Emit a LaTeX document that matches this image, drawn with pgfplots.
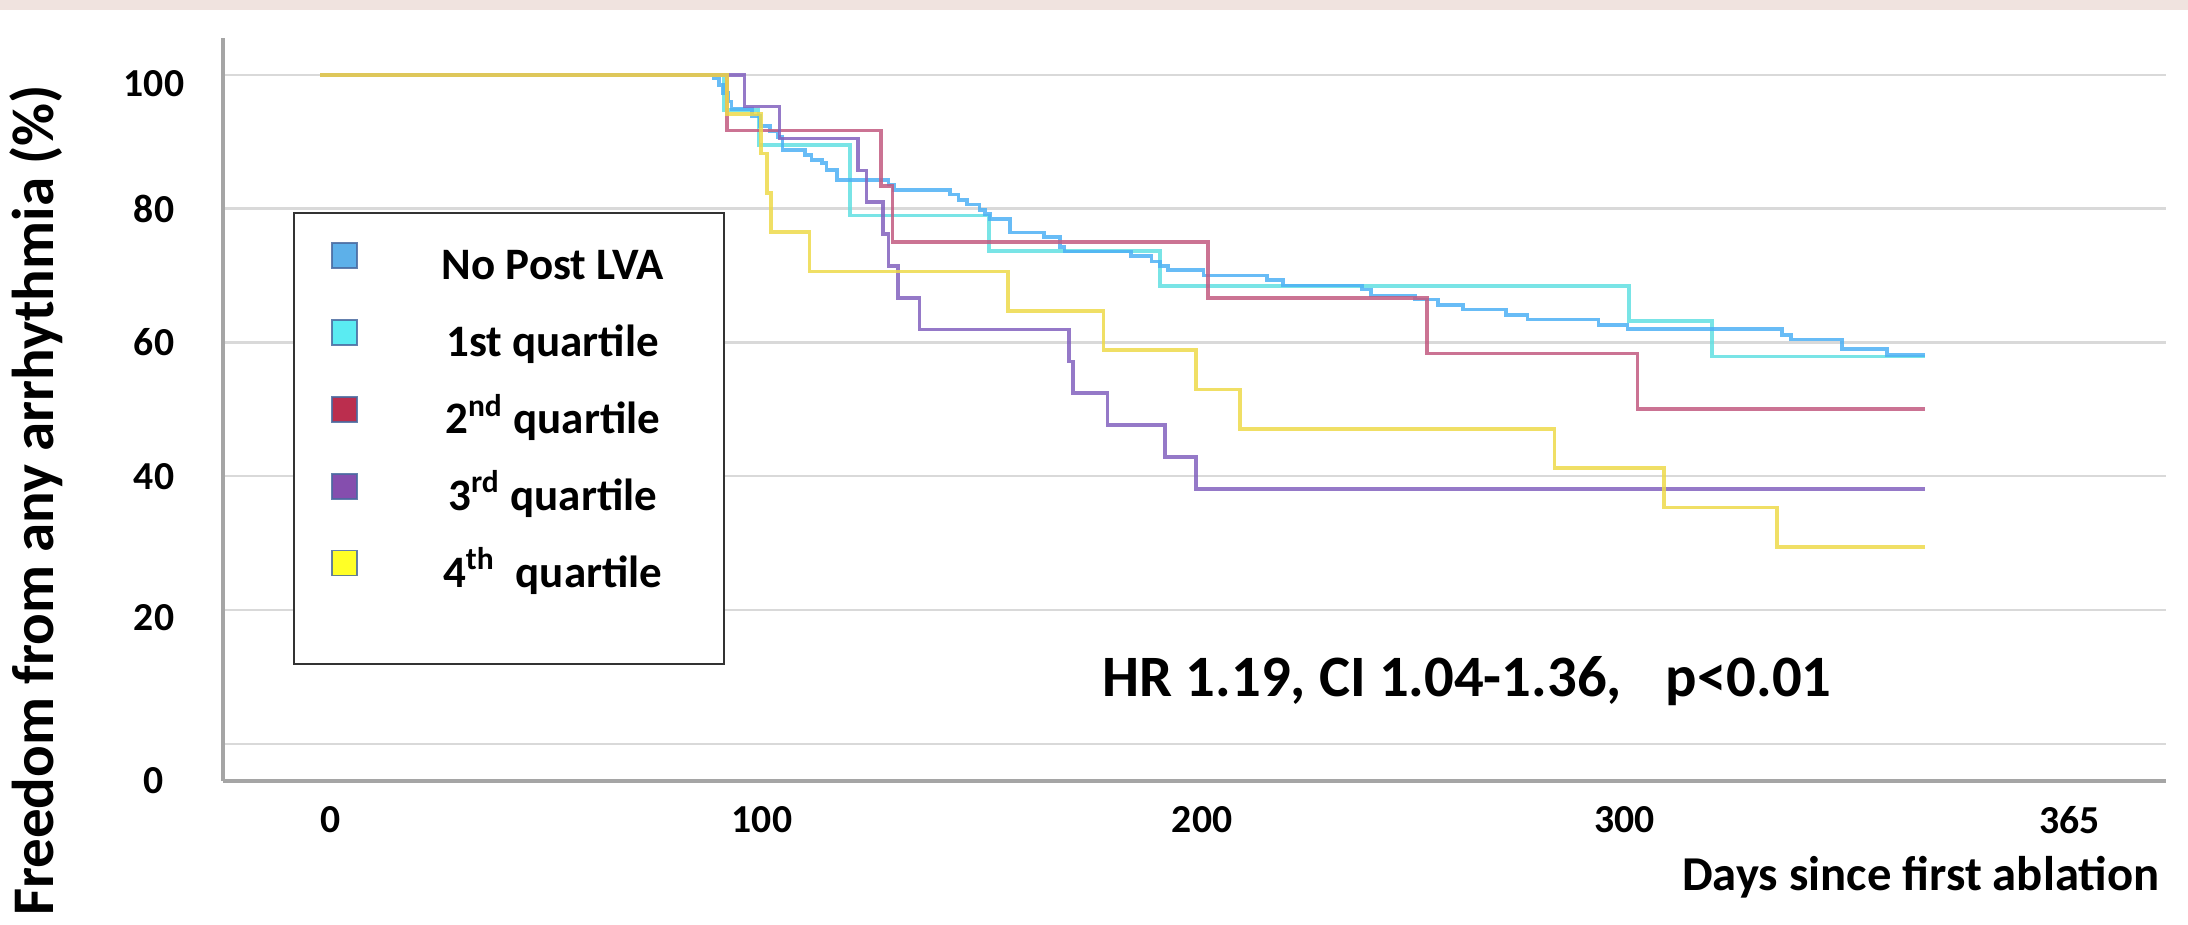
\documentclass[border=0pt]{standalone}
\usepackage{pgfplots}
\pgfplotsset{compat=1.18}
\usepackage{fontspec}
\setmainfont{Carlito}
\definecolor{cBlue}{HTML}{4DB0F5}
\definecolor{cCyan}{HTML}{62DFE2}
\definecolor{cRed}{HTML}{C25A80}
\definecolor{cPurple}{HTML}{8262BE}
\definecolor{cYellow}{HTML}{EDD94A}
\definecolor{lBlue}{HTML}{41A3E6}
\definecolor{lCyan}{HTML}{3EE8F0}
\definecolor{lRed}{HTML}{B00A30}
\definecolor{lPurple}{HTML}{7030A0}
\definecolor{lYellow}{HTML}{FFFF00}
\definecolor{lBorder}{HTML}{4A6AA0}
\definecolor{axisgray}{HTML}{A5A5A5}
\definecolor{gridgray}{HTML}{D9D9D9}
\definecolor{topband}{HTML}{F0E3DF}
\newcommand\tickfont{\fontsize{11.9}{14}\selectfont\bfseries}
\newcommand\lstrut{\rule[-7.275pt]{0pt}{23.25pt}}
\newcommand\lent[1]{\makebox[80.5pt][c]{#1}\lstrut}
\newcommand\lkey[1]{\addlegendimage{legend image code/.code={\draw[fill=#1, draw=lBorder, line width=0.5pt] (0pt,-3.75pt) rectangle (7.5pt,3.75pt);}}}
\begin{document}
\begin{tikzpicture}
\begin{scope}[x=0.3pt,y=-0.3pt]
\path[use as bounding box] (0,0) rectangle (2188,924);
\fill[topband] (0,0) rectangle (2188,10);
\coordinate (SW) at (222.7,781);
\end{scope}
\begin{axis}[
  at={(SW)}, anchor=south west,
  scale only axis, width=583.0pt, height=222.9pt,
  xmin=-22.13, xmax=419.8, ymin=-5.575, ymax=105.49,
  axis x line=bottom, axis y line=left,
  axis line style={-, draw=axisgray, line width=1.3pt},
  xtick={2.5,100.5,200.6,296.6,397.8},
  xticklabels={0,100,200,300,365},
  ytick={0,20,40,60,80,100}, yticklabels={},
  extra y ticks={-5.575,18.8,40,60,80,98.6},
  extra y tick labels={0,20,40,60,80,100},
  extra y tick style={grid=none},
  ymajorgrids, major grid style={draw=gridgray, line width=0.7pt},
  major tick length=0pt, tick style={draw=none},
  /pgf/number format/assume math mode=true,
  xticklabel style={anchor=center, yshift=-11.7pt, font=\tickfont},
  yticklabel style={anchor=center, xshift=-20.6pt, font=\tickfont},
  legend style={at={(0.03602,0.7654)}, anchor=north west,
    draw=black!80, line width=0.6pt, inner xsep=11.25pt, inner ysep=3.9pt,
    column sep=18.2pt, row sep=5.6pt, nodes={inner sep=0pt},
    font=\fontsize{13.5}{16}\selectfont\bfseries},
  every axis plot/.append style={const plot, line width=1.1pt, opacity=0.85, forget plot},
]
% 1st quartile
\addplot[cCyan] coordinates {(0,100) (91.8,94.74) (99.7,89.47) (120.5,78.95) (152.2,73.68) (191.0,68.42) (297.6,63.16) (316.5,57.89) (365,57.89)};
% No Post LVA
\addplot[cBlue] coordinates {(0,100) (89.5,99.5) (90.8,98.5) (91.7,97.3) (92.9,96.0) (93.6,94.9) (98.2,93.8) (100.1,92.3) (102.3,91.5) (104.0,90.7) (105.2,88.8) (110.3,88.0) (111.8,87.3) (114.1,86.8) (115.2,85.8) (117.5,84.3) (129.3,83.6) (130.5,82.8) (143.3,82.1) (145.2,81.3) (147.1,80.6) (150.0,79.8) (151.2,79.2) (152.4,78.4) (156.9,76.4) (164.7,75.7) (168.3,74.3) (169.3,73.6) (184.4,72.9) (189.1,72.1) (191.0,71.4) (192.9,70.8) (200.9,70.0) (215.3,69.3) (219.0,68.5) (236.9,67.9) (239.0,67.0) (249.0,66.4) (254.3,65.6) (259.9,64.9) (269.7,64.1) (274.6,63.4) (290.7,62.6) (297.3,62.0) (332.4,61.1) (334.5,60.4) (346.1,59.0) (356.3,58.1) (365,58.1)};
% 2nd quartile
\addplot[cRed] coordinates {(0,100) (92.6,91.67) (127.6,83.33) (130.2,75.0) (201.9,66.67) (251.8,58.33) (299.6,50.0) (365,50.0)};
% 3rd quartile
\addplot[cPurple] coordinates {(0,100) (96.5,95.24) (104.5,90.48) (122.4,85.71) (124.3,80.95) (128.1,76.19) (129.3,71.43) (131.5,66.67) (136.3,61.90) (170.3,57.14) (171.3,52.38) (179.1,47.62) (192.2,42.86) (199.2,38.10) (365,38.10)};
% 4th quartile
\addplot[cYellow] coordinates {(0,100) (92.6,94.12) (100.3,88.24) (101.7,82.35) (102.5,76.47) (111.3,70.59) (156.4,64.71) (178.2,58.82) (199.2,52.94) (209.2,47.06) (280.7,41.18) (305.6,35.29) (331.3,29.41) (365,29.41)};
\lkey{lBlue}\addlegendentry{\lent{No Post LVA}}
\lkey{lCyan}\addlegendentry{\lent{1st quartile}}
\lkey{lRed}\addlegendentry{\lent{2\textsuperscript{nd} quartile}}
\lkey{lPurple}\addlegendentry{\lent{3\textsuperscript{rd} quartile}}
\lkey{lYellow}\addlegendentry{\lent{4\textsuperscript{th}\ \ quartile}}
\addlegendimage{empty legend}\addlegendentry{\rule{0pt}{10.5pt}}
\node[anchor=base west, inner sep=0pt, font=\fontsize{17.6}{20}\selectfont\bfseries] at (axis cs:177.8,7.03) {HR 1.19, CI 1.04-1.36,\hspace{0.75em}p<0.01};
\end{axis}
\begin{scope}[x=0.3pt,y=-0.3pt]
\node[anchor=base east, inner sep=0pt, font=\fontsize{14.6}{17}\selectfont\bfseries] at (2160,890) {Days since first ablation};
\end{scope}
\begin{scope}[x=0.3pt,y=-0.3pt,overlay]
\node[rotate=90, anchor=east, inner sep=0pt, font=\fontsize{17.7}{21}\selectfont\bfseries] at (36,84) {Freedom from any arrhythmia (\%)};
\end{scope}
\end{tikzpicture}
\end{document}
